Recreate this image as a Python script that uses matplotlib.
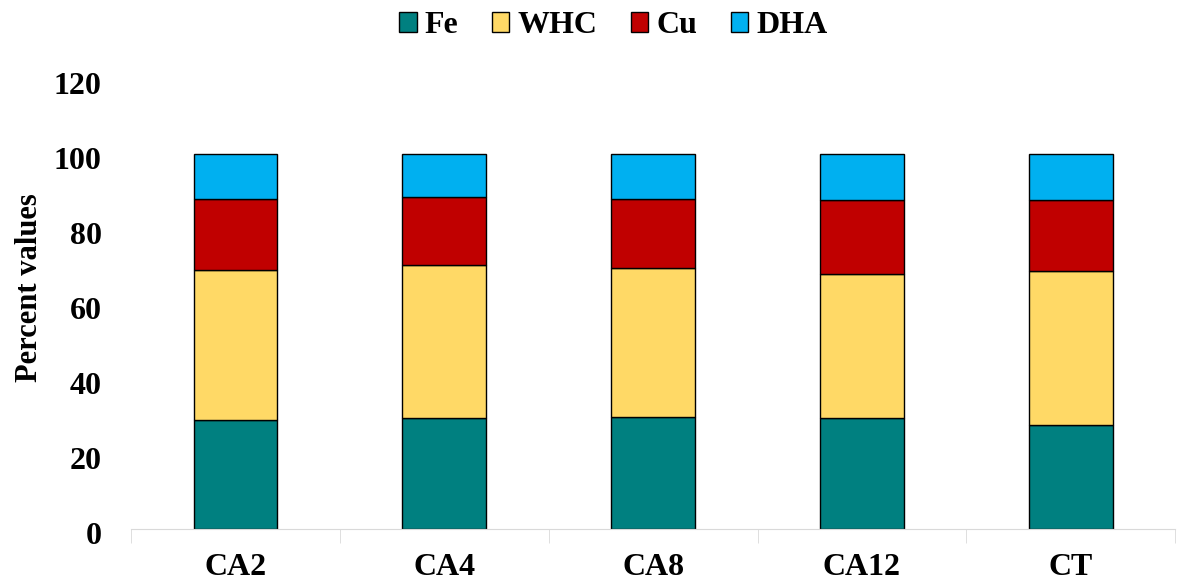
import matplotlib
matplotlib.use("Agg")
import matplotlib.pyplot as plt
from matplotlib.transforms import ScaledTranslation
import numpy as np

categories = ["CA2", "CA4", "CA8", "CA12", "CT"]
fe = [29.0, 29.6, 29.8, 29.7, 27.6]
whc = [40.1, 40.7, 39.9, 38.4, 41.2]
cu = [19.0, 18.3, 18.4, 19.5, 19.0]
dha = [11.9, 11.4, 11.9, 12.4, 12.2]

series = [("Fe", fe, "#008080"), ("WHC", whc, "#FFD966"),
          ("Cu", cu, "#C00000"), ("DHA", dha, "#00B0F0")]

plt.rcParams["font.family"] = ["Liberation Serif", "DejaVu Serif"]
plt.rcParams["font.weight"] = "bold"

fig = plt.figure(figsize=(11.84, 5.8), dpi=100)
ax = fig.add_axes([0.1106, 0.088, 0.882, 0.776])

x = np.arange(len(categories))
bottom = np.zeros(len(categories))
for name, vals, col in series:
    ax.bar(x, vals, width=0.4, bottom=bottom, color=col, edgecolor="black",
           linewidth=1.0, label=name)
    bottom += np.array(vals)

ax.set_xlim(-0.5, len(categories) - 0.5)
ax.set_ylim(0, 120)
ax.set_yticks(range(0, 121, 20))
ax.set_xticks(x)
ax.set_xticklabels(categories)
ax.set_xticks(np.arange(-0.5, len(categories), 1), minor=True)

for s in ["left", "right", "top"]:
    ax.spines[s].set_visible(False)
ax.spines["bottom"].set_color("#d9d9d9")
ax.tick_params(axis="y", length=0, labelsize=23, pad=21)
ax.tick_params(axis="x", which="major", length=0, labelsize=23, pad=17)
ax.tick_params(axis="x", which="minor", length=10, color="#d9d9d9")
shift = ScaledTranslation(0, -4 / 100, fig.dpi_scale_trans)
for lab in ax.get_yticklabels():
    lab.set_transform(lab.get_transform() + shift)
for lab in ax.get_xticklabels() + ax.get_yticklabels():
    lab.set_fontweight("bold")

ax.set_ylabel("Percent values", fontsize=22, fontweight="bold")
ax.yaxis.set_label_coords(-0.083, 0.536)

fig.legend(loc="upper center", bbox_to_anchor=(0.518, 1.03), ncol=4, frameon=False,
           prop={"size": 23, "weight": "bold"}, handlelength=0.55, handleheight=0.55,
           handletextpad=0.25, columnspacing=1.05)

fig.savefig("out.png", dpi=100)
